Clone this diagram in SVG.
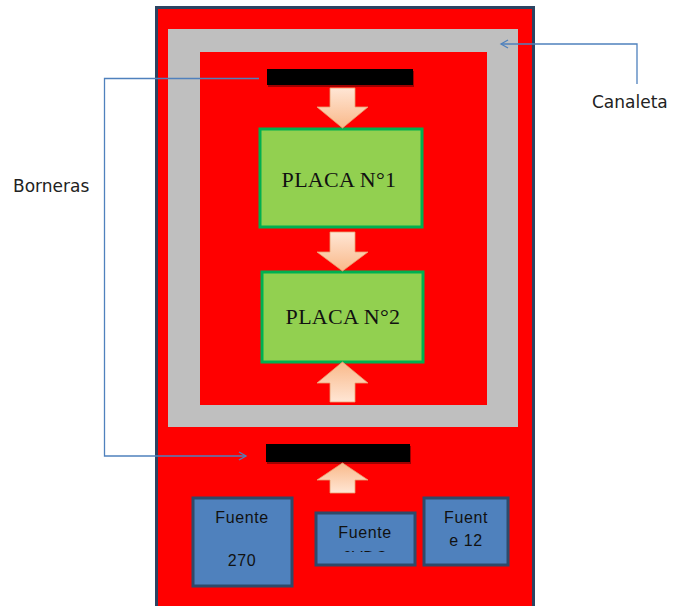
<svg xmlns="http://www.w3.org/2000/svg" width="673" height="606" viewBox="0 0 673 606">
<defs>
<style>
.plate rect{fill:#92D050;stroke:#00B050;stroke-width:3}
.plate text{font-family:"Liberation Serif",serif;font-size:22px;fill:#111;text-anchor:middle;letter-spacing:0.3px}
.src rect{fill:#4F81BD;stroke:#2F4A6A;stroke-width:3}
.src text{font-family:"Liberation Sans",Arial,sans-serif;font-size:16px;fill:#111;text-anchor:middle;letter-spacing:0.6px}
.bar{fill:#000}
.barsh{fill:#A00000}
.blk{stroke:#E8A070;stroke-width:0.8}
.lbl{font-family:"DejaVu Sans",sans-serif;font-size:17px;fill:#222}
.con{fill:none;stroke:#4F81BD;stroke-width:1.3}
</style>
<linearGradient id="gDown" x1="0" y1="0" x2="0" y2="1">
<stop offset="0" stop-color="#FFE6D5"/><stop offset="1" stop-color="#F9B98A"/>
</linearGradient>
<linearGradient id="gUp" x1="0" y1="1" x2="0" y2="0">
<stop offset="0" stop-color="#FFE6D5"/><stop offset="1" stop-color="#F9B98A"/>
</linearGradient>
<marker id="open" markerWidth="10" markerHeight="10" refX="8" refY="5" orient="auto" markerUnits="userSpaceOnUse">
<path d="M1,1 L8,5 L1,9" fill="none" stroke="#4F81BD" stroke-width="1.3"/>
</marker>
<clipPath id="clip2"><rect x="317" y="514" width="97" height="38"/></clipPath>
</defs>

<g id="cabinet">
<rect x="156.5" y="7.5" width="377" height="605" fill="#FF0000" stroke="#2C4462" stroke-width="3"/>
</g>

<g id="canaleta">
<path d="M168,29 H518 V427 H168 Z M200,52 V405 H487 V52 Z" fill="#BFBFBF" fill-rule="evenodd"/>
</g>

<g id="bornera-top">
<rect class="barsh" x="268" y="71" width="146" height="16"/>
<rect class="bar" x="267" y="69" width="146" height="16"/>
</g>

<g id="bornera-bottom">
<rect class="barsh" x="267" y="446" width="144" height="18"/>
<rect class="bar" x="266" y="444" width="144" height="18"/>
</g>

<g id="placa1" class="plate">
<rect x="260" y="129" width="162" height="98"/>
<text x="339" y="187">PLACA N°1</text>
</g>

<g id="placa2" class="plate">
<rect x="262" y="272" width="161" height="90"/>
<text x="343" y="324">PLACA N°2</text>
</g>

<g id="fuente270" class="src">
<rect x="193" y="498" width="99" height="88"/>
<text x="242" y="523">Fuente</text>
<text x="242" y="566">270</text>
</g>

<g id="fuente5vdc" class="src">
<rect x="316" y="513" width="99" height="52"/>
<g clip-path="url(#clip2)">
<text x="365" y="538">Fuente</text>
<text x="365" y="563">6VDC</text>
</g>
</g>

<g id="fuente12" class="src">
<rect x="424" y="498" width="84" height="67"/>
<text x="466" y="523">Fuent</text>
<text x="466" y="546">e 12</text>
</g>

<g id="connectors">
<polygon class="blk" points="330,88 355,88 355,107 368,107 342.5,128 317,107 330,107" fill="url(#gDown)"/>
<polygon class="blk" points="330,232 355,232 355,252 368,252 342.5,271 317,252 330,252" fill="url(#gDown)"/>
<polygon class="blk" points="330,402 355,402 355,383 368,383 342.5,362 317,383 330,383" fill="url(#gUp)"/>
<polygon class="blk" points="330,493 355,493 355,480 368,480 342.5,463 317,480 330,480" fill="url(#gUp)"/>
<path class="con" d="M259,78.5 H104.5 V456 H246" marker-end="url(#open)"/>
<path class="con" d="M637,84 V44 H501" marker-end="url(#open)"/>
</g>

<g id="labels">
<text class="lbl" x="13" y="192">Borneras</text>
<text class="lbl" x="592" y="108">Canaleta</text>
</g>
</svg>
